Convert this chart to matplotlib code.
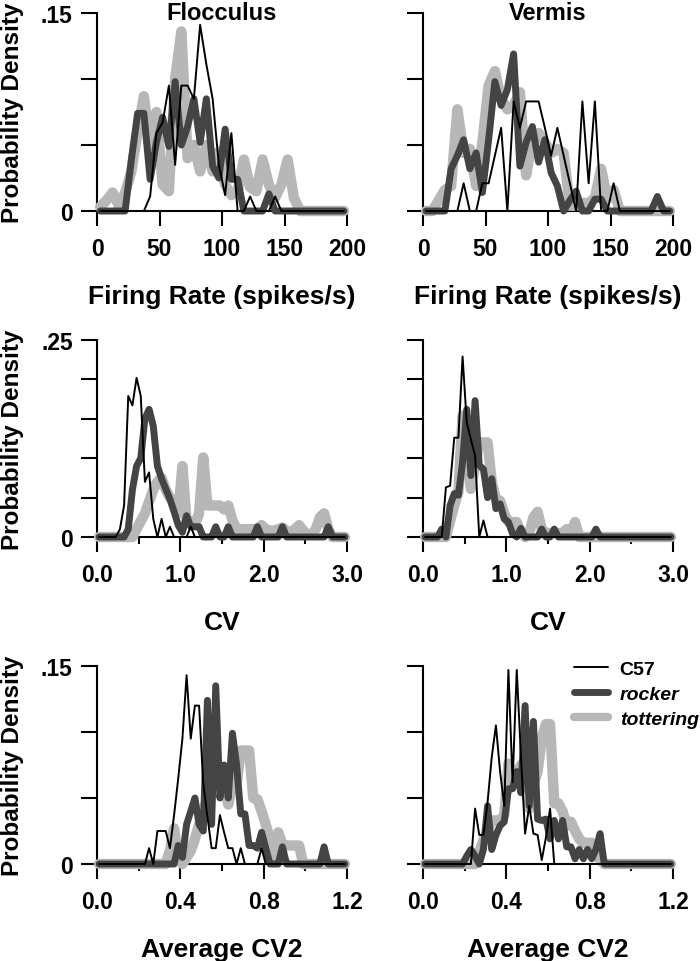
import numpy as np
import matplotlib
matplotlib.use("Agg")
import matplotlib.pyplot as plt

plt.rcParams['font.family'] = ['Liberation Sans', 'DejaVu Sans']
plt.rcParams['font.weight'] = 'bold'

# bin centres
fr_x = np.arange(2.5, 200, 5.0)        # firing rate, 40 bins
cv_x = np.arange(0.025, 3.0, 0.05)     # CV, 60 bins
cv2_x = np.arange(0.01, 1.2, 0.02)     # average CV2, 60 bins

# ---- Firing rate, flocculus
floc_fr_c57 = [0, 0, 0, 0, 0, 0, 0, 0, 0.011, 0.059,
               0.067, 0.095, 0.035, 0.095, 0.095, 0.085, 0.141, 0.111, 0.085, 0.035,
               0.012, 0.059, 0, 0, 0.011, 0, 0, 0, 0.011, 0,
               0, 0, 0, 0, 0, 0, 0, 0, 0, 0]
floc_fr_rocker = [0, 0, 0, 0, 0, 0.039, 0.074, 0.074, 0.024, 0.052,
                  0.071, 0.049, 0.098, 0.050, 0.064, 0.085, 0.052, 0.085, 0.034, 0.025,
                  0.062, 0.024, 0.024, 0, 0, 0, 0, 0.013, 0, 0,
                  0, 0, 0, 0, 0, 0, 0, 0, 0, 0]
floc_fr_tott = [0.003, 0.008, 0.014, 0.004, 0.014, 0.030, 0.060, 0.087, 0.050, 0.075,
                0.020, 0.015, 0.100, 0.136, 0.040, 0.050, 0.030, 0.050, 0.030, 0.045,
                0.020, 0.012, 0.015, 0.039, 0.018, 0.015, 0.039, 0.020, 0.010, 0.020,
                0.039, 0.010, 0, 0, 0, 0, 0, 0, 0, 0]

# ---- Firing rate, vermis
verm_fr_c57 = [0, 0, 0, 0, 0, 0, 0.021, 0, 0, 0.021,
               0.021, 0.042, 0.063, 0, 0.083, 0.063, 0.083, 0.083, 0.083, 0.063,
               0.042, 0.063, 0.042, 0.021, 0, 0.083, 0.021, 0.083, 0, 0,
               0.021, 0, 0, 0, 0, 0, 0, 0, 0, 0]
verm_fr_rocker = [0, 0, 0, 0, 0.032, 0.042, 0.054, 0.032, 0.044, 0.014,
                  0.054, 0.098, 0.080, 0.092, 0.119, 0.034, 0.052, 0.064, 0.037, 0.054,
                  0.029, 0.019, 0, 0.008, 0.015, 0, 0, 0.009, 0.009, 0,
                  0, 0, 0, 0, 0, 0, 0, 0.011, 0, 0]
verm_fr_tott = [0, 0, 0.008, 0.016, 0.019, 0.077, 0.044, 0.047, 0.019, 0.052,
                0.095, 0.106, 0.085, 0.077, 0.080, 0.090, 0.027, 0.054, 0.059, 0.052,
                0.044, 0.047, 0.044, 0.004, 0.004, 0.006, 0.006, 0.010, 0.032, 0.009,
                0.016, 0, 0, 0, 0, 0, 0, 0, 0, 0]

# ---- CV, flocculus
floc_cv_c57 = [0, 0, 0, 0, 0, 0.010, 0.040, 0.179, 0.167, 0.202,
               0.179, 0.070, 0.082, 0.023, 0, 0.023, 0, 0.013, 0, 0,
               0, 0, 0.013, 0, 0, 0, 0, 0, 0, 0,
               0, 0, 0, 0, 0, 0, 0, 0, 0, 0,
               0, 0, 0, 0, 0, 0, 0, 0, 0, 0,
               0, 0, 0, 0, 0, 0, 0, 0, 0, 0]
floc_cv_rocker = [0, 0, 0, 0, 0, 0, 0, 0.010, 0.060, 0.090,
                  0.100, 0.150, 0.162, 0.141, 0.090, 0.074, 0.061, 0.048, 0.032, 0.015,
                  0.006, 0.027, 0.013, 0.013, 0.013, 0, 0, 0, 0.013, 0,
                  0, 0.013, 0, 0, 0, 0, 0, 0, 0.013, 0,
                  0, 0, 0, 0, 0.013, 0, 0, 0, 0, 0,
                  0, 0, 0, 0, 0, 0.013, 0, 0, 0, 0]
floc_cv_tott = [0, 0, 0, 0, 0, 0, 0, 0, 0, 0.010,
                0.020, 0.030, 0.045, 0.060, 0.070, 0.075, 0.060, 0.050, 0.045, 0.030,
                0.090, 0.020, 0.020, 0.015, 0.030, 0.101, 0.040, 0.040, 0.040, 0.040,
                0.035, 0.040, 0.021, 0.010, 0.010, 0.010, 0.010, 0.010, 0.010, 0.015,
                0.010, 0.008, 0.008, 0.010, 0.012, 0.008, 0.005, 0.010, 0.015, 0.008,
                0.003, 0.003, 0.010, 0.025, 0.030, 0.010, 0, 0, 0, 0]

# ---- CV, vermis
verm_cv_c57 = [0, 0, 0, 0, 0, 0.063, 0.065, 0.126, 0.126, 0.229,
               0.145, 0.124, 0.103, 0, 0.021, 0, 0, 0, 0, 0,
               0, 0, 0, 0, 0, 0, 0, 0, 0, 0,
               0, 0, 0, 0, 0, 0, 0, 0, 0, 0,
               0, 0, 0, 0, 0, 0, 0, 0, 0, 0,
               0, 0, 0, 0, 0, 0, 0, 0, 0, 0]
verm_cv_rocker = [0, 0, 0, 0, 0.010, 0, 0.040, 0.055, 0.053, 0.095,
                  0.162, 0.078, 0.173, 0.091, 0.086, 0.050, 0.074, 0.036, 0.042, 0.023,
                  0.019, 0.004, 0, 0.011, 0, 0, 0, 0, 0.010, 0,
                  0, 0.010, 0, 0, 0, 0, 0, 0, 0, 0,
                  0, 0.010, 0, 0, 0, 0, 0, 0, 0, 0,
                  0, 0, 0, 0, 0, 0, 0, 0, 0, 0]
verm_cv_tott = [0, 0, 0, 0, 0, 0, 0.020, 0.040, 0.057, 0.154,
                0.100, 0.061, 0.090, 0.120, 0.120, 0.120, 0.070, 0.048, 0.046, 0.030,
                0.019, 0.019, 0.019, 0.005, 0, 0.005, 0.025, 0.032, 0.010, 0.005,
                0.005, 0.005, 0.005, 0.005, 0.010, 0.005, 0.019, 0, 0, 0,
                0, 0, 0, 0, 0, 0, 0, 0, 0, 0,
                0, 0, 0, 0, 0, 0, 0, 0, 0, 0]

# ---- Average CV2, flocculus
floc_cv2_c57 = [0, 0, 0, 0, 0, 0, 0, 0, 0, 0,
                0, 0, 0.012, 0, 0.025, 0.025, 0.025, 0.012, 0.037, 0.065,
                0.095, 0.143, 0.095, 0.120, 0.120, 0.061, 0.036, 0.012, 0.012, 0.037,
                0.024, 0.012, 0.012, 0, 0.012, 0, 0, 0, 0, 0.012,
                0, 0, 0, 0, 0, 0, 0, 0, 0, 0,
                0, 0, 0, 0, 0, 0, 0, 0, 0, 0]
floc_cv2_rocker = [0, 0, 0, 0, 0, 0, 0, 0, 0, 0,
                   0, 0, 0, 0, 0, 0, 0, 0, 0, 0.014,
                   0.005, 0.030, 0.040, 0.050, 0.030, 0.025, 0.124, 0.030, 0.135, 0.050,
                   0.075, 0.050, 0.099, 0.075, 0.038, 0.038, 0.014, 0.014, 0.012, 0.024,
                   0.012, 0, 0, 0, 0.013, 0, 0, 0, 0, 0,
                   0, 0, 0, 0, 0.013, 0, 0, 0, 0, 0]
floc_cv2_tott = [0, 0, 0, 0, 0, 0, 0, 0, 0, 0,
                 0, 0, 0, 0, 0, 0, 0, 0.010, 0.027, 0.005,
                 0, 0.005, 0.010, 0.019, 0.030, 0.040, 0.050, 0.060, 0.060, 0.065,
                 0.062, 0.045, 0.060, 0.060, 0.086, 0.086, 0.086, 0.050, 0.049, 0.040,
                 0.030, 0.019, 0.005, 0.024, 0.015, 0.014, 0.014, 0.014, 0.014, 0,
                 0, 0, 0, 0, 0, 0, 0, 0, 0, 0]

# ---- Average CV2, vermis
verm_cv2_c57 = [0, 0, 0, 0, 0, 0, 0, 0, 0, 0,
                0, 0, 0.042, 0.022, 0.022, 0.047, 0.081, 0.105, 0.070, 0.044,
                0.147, 0.062, 0.147, 0.082, 0.023, 0.044, 0.023, 0.022, 0.003, 0.020,
                0.042, 0, 0, 0, 0, 0, 0, 0, 0, 0,
                0, 0, 0, 0, 0, 0, 0, 0, 0, 0,
                0, 0, 0, 0, 0, 0, 0, 0, 0, 0]
verm_cv2_rocker = [0, 0, 0, 0, 0, 0, 0, 0, 0, 0,
                   0.006, 0.011, 0.006, 0, 0.011, 0.044, 0.011, 0.022, 0.029, 0.032,
                   0.057, 0.057, 0.070, 0.054, 0.120, 0.044, 0.108, 0.034, 0.033, 0.034,
                   0.019, 0.033, 0.019, 0.033, 0.013, 0.013, 0.004, 0.011, 0.004, 0.011,
                   0.004, 0.011, 0.023, 0, 0, 0, 0, 0, 0, 0,
                   0, 0, 0, 0, 0, 0, 0, 0, 0, 0]
verm_cv2_tott = [0, 0, 0, 0, 0, 0, 0, 0, 0, 0,
                 0, 0, 0, 0.009, 0.018, 0.025, 0.033, 0.033, 0.033, 0.037,
                 0.076, 0.070, 0.065, 0.075, 0.060, 0.042, 0.060, 0.070, 0.095, 0.106,
                 0.106, 0.046, 0.046, 0.040, 0.029, 0.032, 0.025, 0.019, 0.016, 0.016,
                 0.016, 0.010, 0.003, 0, 0, 0, 0, 0, 0, 0,
                 0, 0, 0, 0, 0, 0, 0, 0, 0, 0]

strains = ['C57', 'rocker', 'tottering']
colors = {'C57': 'black', 'rocker': '#444444', 'tottering': '#b7b7b7'}
widths = {'C57': 1.4, 'rocker': 5.0, 'tottering': 7.5}

W, H = 700, 962
fig = plt.figure(figsize=(W / 100, H / 100), dpi=100)


def px_axes(left, top, right, bottom):
    return fig.add_axes([left / W, 1 - bottom / H, (right - left) / W, (bottom - top) / H])


rows = [(14, 212), (341, 538), (667, 865)]
cols = [(97, 347), (423, 673)]

panels = [
    (fr_x, [floc_fr_c57, floc_fr_rocker, floc_fr_tott],
     [verm_fr_c57, verm_fr_rocker, verm_fr_tott], 0.15, 200,
     [0, 50, 100, 150, 200], ['0', '50', '100', '150', '200'], [], 'Firing Rate (spikes/s)'),
    (cv_x, [floc_cv_c57, floc_cv_rocker, floc_cv_tott],
     [verm_cv_c57, verm_cv_rocker, verm_cv_tott], 0.25, 3.0,
     [0, 1, 2, 3], ['0.0', '1.0', '2.0', '3.0'], [0.5, 1.5, 2.5], 'CV'),
    (cv2_x, [floc_cv2_c57, floc_cv2_rocker, floc_cv2_tott],
     [verm_cv2_c57, verm_cv2_rocker, verm_cv2_tott], 0.15, 1.2,
     [0, 0.4, 0.8, 1.2], ['0.0', '0.4', '0.8', '1.2'], [0.2, 0.6, 1.0], 'Average CV2'),
]

axes = []
for r, (x, floc, verm, ytop, xmax, xt, xtl, xminor, xlabel) in enumerate(panels):
    for c, series in enumerate([floc, verm]):
        top, bottom = rows[r]
        left, right = cols[c]
        ax = px_axes(left, top, right, bottom)
        axes.append(ax)
        # light first, thin C57 trace last so it stays on top
        for name, y in reversed(list(zip(strains, series))):
            ax.plot(x, y, color=colors[name], lw=widths[name], label=name,
                    solid_joinstyle='round', solid_capstyle='round',
                    clip_on=False, zorder=3)
        ax.set_xlim(0, xmax)
        ax.set_ylim(0, ytop)
        ax.spines['top'].set_visible(False)
        ax.spines['right'].set_visible(False)
        for s in ('left', 'bottom'):
            ax.spines[s].set_linewidth(1.5)
        ax.set_xticks(xt)
        ax.set_xticklabels(xtl)
        if xminor:
            ax.set_xticks(xminor, minor=True)
        yt = np.round(np.arange(0, ytop + 1e-9, 0.05), 2)
        ax.set_yticks(yt)
        ax.tick_params(axis='both', which='major', direction='out', width=1.5,
                       labelsize=16.5)
        ax.tick_params(axis='y', which='major', length=11.5, pad=6)
        ax.tick_params(axis='x', which='major', length=11, pad=8)
        ax.tick_params(axis='x', which='minor', length=5, width=1.5)
        ax.set_xlabel(xlabel, fontsize=19, fontweight='bold')
        ax.xaxis.set_label_coords(0.5, -0.37)
        ax.xaxis.label.set_va('top')
        if c == 0:
            ax.set_yticklabels(['0'] + [''] * (len(yt) - 2) + [('%.2f' % ytop)[1:]])
            ax.set_ylabel('Probability Density', fontsize=17.5, fontweight='bold')
            ax.yaxis.set_label_coords(-0.29, 0.5)
        else:
            ax.set_yticklabels([''] * len(yt))
        if r == 0:
            ax.text(0.5, 0.972, ['Flocculus', 'Vermis'][c], transform=ax.transAxes,
                    ha='center', va='baseline', fontsize=17, fontweight='bold')

# legend in the bottom-right panel
ax = axes[-1]
handles, labels = ax.get_legend_handles_labels()
order = [labels.index(s) for s in strains]
leg = ax.legend([handles[i] for i in order], strains, loc='upper left',
                bbox_to_anchor=(574 / W, 1 - 661 / H), bbox_transform=fig.transFigure,
                frameon=False, fontsize=14, handlelength=1.75, handletextpad=0.6,
                labelspacing=0.38, borderpad=0, borderaxespad=0)
for t in leg.get_texts()[1:]:
    t.set_style('italic')
leg.get_lines()[2].set_linewidth(6)

fig.savefig('out.png', dpi=100)
